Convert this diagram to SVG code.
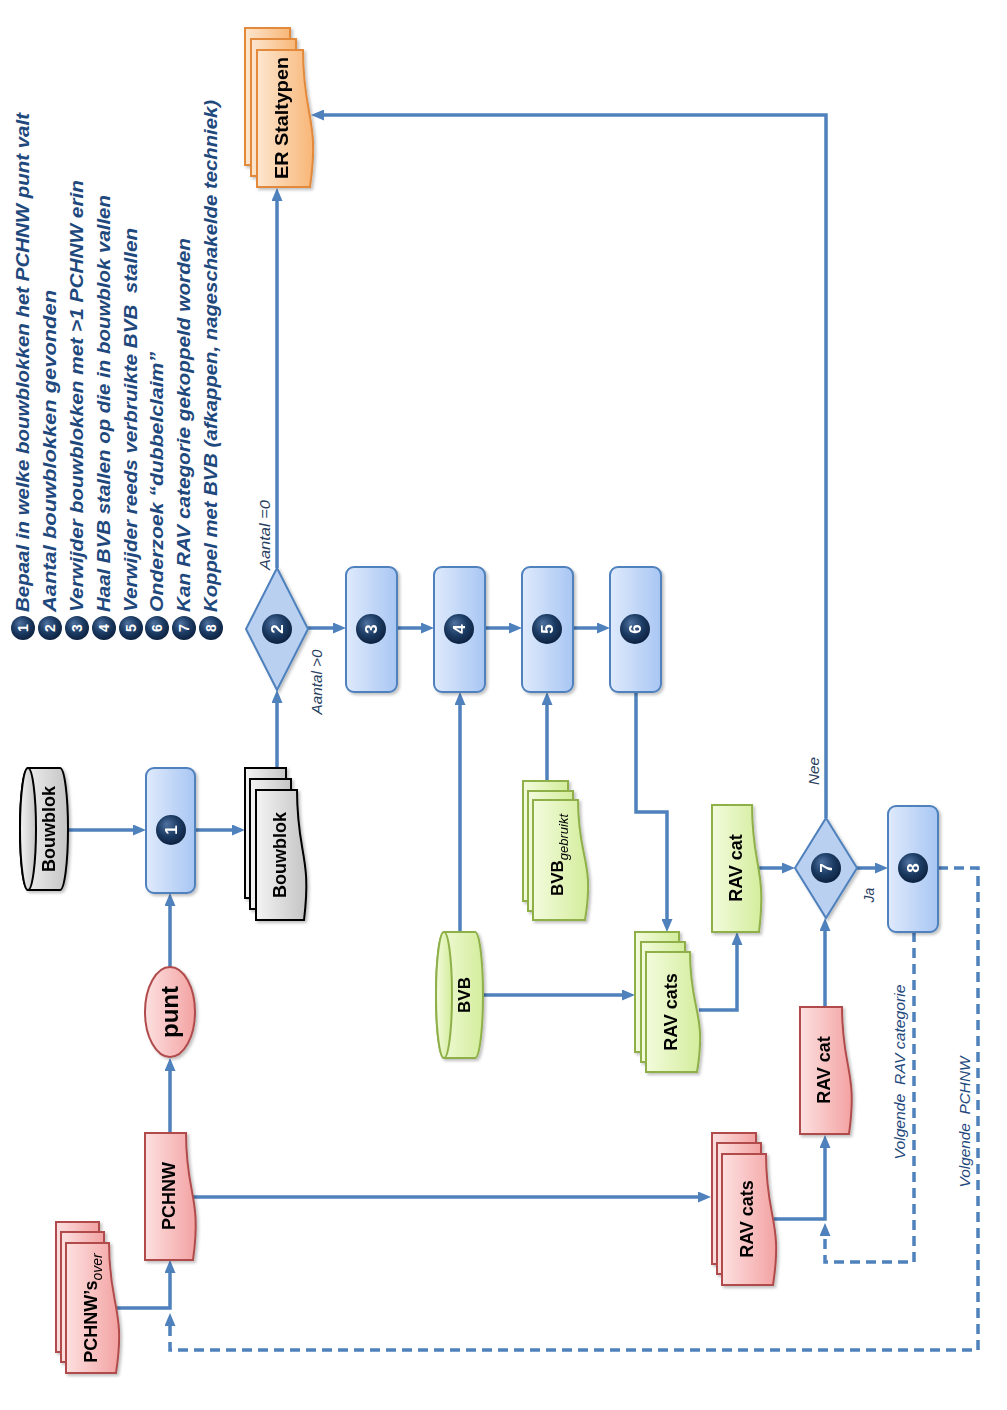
<svg xmlns="http://www.w3.org/2000/svg" width="1007" height="1410" viewBox="0 0 1007 1410">
<defs>
<style>
.lbl{font-family:"Liberation Sans",Arial,sans-serif;font-weight:bold;font-size:18px;fill:#000;text-anchor:middle}
.num{font-family:"Liberation Sans",Arial,sans-serif;font-weight:bold;font-size:17px;fill:#fff;text-anchor:middle}
.lnum{font-family:"Liberation Sans",Arial,sans-serif;font-weight:bold;font-size:14px;fill:#fff;text-anchor:middle}
.leg{font-family:"Liberation Sans",Arial,sans-serif;font-weight:bold;font-style:italic;font-size:18px;fill:#1f497d}
.cond{font-family:"Liberation Sans",Arial,sans-serif;font-style:italic;font-size:14px;fill:#2a3f5f;text-anchor:middle}
.loop{font-family:"Liberation Sans",Arial,sans-serif;font-style:italic;font-size:15px;fill:#1f497d;text-anchor:middle}
.box{fill:url(#gBlue);stroke:#4f81bd;stroke-width:2}
.dia{fill:#b9d0f0;stroke:#4f81bd;stroke-width:2}
.red{fill:url(#gRed);stroke:#b14c4c;stroke-width:2}
.grn{fill:url(#gGrn);stroke:#8fb04a;stroke-width:2}
.org{fill:url(#gOrg);stroke:#e3893b;stroke-width:2}
.gry{fill:url(#gGry);stroke:#000;stroke-width:2}
.ball{fill:url(#gBall)}
.con{fill:none;stroke:#4f81bd;stroke-width:3.5}
.dash{fill:none;stroke:#4f81bd;stroke-width:3.5;stroke-dasharray:10 6}
</style>
<linearGradient id="gBlue" x1="0" y1="0" x2="1" y2="0"><stop offset="0" stop-color="#dfeafc"/><stop offset="1" stop-color="#a8c6f3"/></linearGradient>
<linearGradient id="gRed" x1="0" y1="0" x2="1" y2="0"><stop offset="0" stop-color="#fde0e0"/><stop offset="1" stop-color="#f3a2a2"/></linearGradient>
<linearGradient id="gGrn" x1="0" y1="0" x2="1" y2="0"><stop offset="0" stop-color="#f3fbdc"/><stop offset="1" stop-color="#d3ed9c"/></linearGradient>
<linearGradient id="gOrg" x1="0" y1="0" x2="1" y2="0"><stop offset="0" stop-color="#fde6cf"/><stop offset="1" stop-color="#f8b677"/></linearGradient>
<linearGradient id="gGry" x1="0" y1="0" x2="1" y2="0"><stop offset="0" stop-color="#f4f4f4"/><stop offset="1" stop-color="#c4c4c4"/></linearGradient>
<radialGradient id="gBall" cx="0.45" cy="0.4" r="0.6" fx="0.35" fy="0.3"><stop offset="0" stop-color="#4f72a0"/><stop offset="0.6" stop-color="#1c3b63"/><stop offset="1" stop-color="#0d2240"/></radialGradient>
<filter id="sh" x="-20%" y="-20%" width="140%" height="140%"><feDropShadow dx="2" dy="2" stdDeviation="1.5" flood-color="#000" flood-opacity="0.25"/></filter>
<marker id="ah" markerUnits="userSpaceOnUse" markerWidth="13" markerHeight="11" refX="8" refY="5.5" orient="auto"><path d="M0,0 L13,5.5 L0,11 z" fill="#4f81bd"/></marker>
</defs>
<rect width="1007" height="1410" fill="#fff"/>

<g id="legend">
<circle class="ball" cx="23" cy="628" r="12"/><text class="lnum" transform="translate(23,628) rotate(-90)" dy="5">1</text>
<circle class="ball" cx="50" cy="628" r="12"/><text class="lnum" transform="translate(50,628) rotate(-90)" dy="5">2</text>
<circle class="ball" cx="77" cy="628" r="12"/><text class="lnum" transform="translate(77,628) rotate(-90)" dy="5">3</text>
<circle class="ball" cx="104" cy="628" r="12"/><text class="lnum" transform="translate(104,628) rotate(-90)" dy="5">4</text>
<circle class="ball" cx="131" cy="628" r="12"/><text class="lnum" transform="translate(131,628) rotate(-90)" dy="5">5</text>
<circle class="ball" cx="157" cy="628" r="12"/><text class="lnum" transform="translate(157,628) rotate(-90)" dy="5">6</text>
<circle class="ball" cx="184" cy="628" r="12"/><text class="lnum" transform="translate(184,628) rotate(-90)" dy="5">7</text>
<circle class="ball" cx="211" cy="628" r="12"/><text class="lnum" transform="translate(211,628) rotate(-90)" dy="5">8</text>
<text class="leg" transform="translate(29,612) rotate(-90)" textLength="499" lengthAdjust="spacingAndGlyphs">Bepaal in welke bouwblokken het PCHNW punt valt</text>
<text class="leg" transform="translate(56,612) rotate(-90)" textLength="322" lengthAdjust="spacingAndGlyphs">Aantal bouwblokken gevonden</text>
<text class="leg" transform="translate(83,612) rotate(-90)" textLength="432" lengthAdjust="spacingAndGlyphs">Verwijder bouwblokken met &gt;1 PCHNW erin</text>
<text class="leg" transform="translate(110,612) rotate(-90)" textLength="417" lengthAdjust="spacingAndGlyphs">Haal BVB stallen op die in bouwblok vallen</text>
<text class="leg" transform="translate(137,612) rotate(-90)" textLength="384" lengthAdjust="spacingAndGlyphs" xml:space="preserve">Verwijder reeds verbruikte BVB  stallen</text>
<text class="leg" transform="translate(163,612) rotate(-90)" textLength="260" lengthAdjust="spacingAndGlyphs">Onderzoek “dubbelclaim”</text>
<text class="leg" transform="translate(190,612) rotate(-90)" textLength="374" lengthAdjust="spacingAndGlyphs">Kan RAV categorie gekoppeld worden</text>
<text class="leg" transform="translate(217,612) rotate(-90)" textLength="512" lengthAdjust="spacingAndGlyphs">Koppel met BVB (afkappen, nageschakelde techniek)</text>
</g>

<g id="connectors">
<path class="con" marker-end="url(#ah)" d="M68,830 H141"/>
<path class="con" marker-end="url(#ah)" d="M195,830 H240"/>
<path class="con" marker-end="url(#ah)" d="M277,768 V695"/>
<path class="con" marker-end="url(#ah)" d="M277,568 V193"/>
<path class="con" marker-end="url(#ah)" d="M308,628 H341"/>
<path class="con" marker-end="url(#ah)" d="M397,628 H429"/>
<path class="con" marker-end="url(#ah)" d="M485,628 H517"/>
<path class="con" marker-end="url(#ah)" d="M573,628 H605"/>
<path class="con" marker-end="url(#ah)" d="M460,932 V697"/>
<path class="con" marker-end="url(#ah)" d="M547,781 V697"/>
<path class="con" marker-end="url(#ah)" d="M636,692 V812 H667 V927"/>
<path class="con" marker-end="url(#ah)" d="M483,995 H630"/>
<path class="con" marker-end="url(#ah)" d="M699,1010 H737 V937"/>
<path class="con" marker-end="url(#ah)" d="M759,868 H790"/>
<path class="con" marker-end="url(#ah)" d="M857,868 H883"/>
<path class="con" marker-end="url(#ah)" d="M826,818 V115 H316"/>
<path class="con" marker-end="url(#ah)" d="M825,1007 V923"/>
<path class="con" marker-end="url(#ah)" d="M774,1219 H825 V1140"/>
<path class="dash" marker-end="url(#ah)" d="M914,932 V1262 H825 V1228"/>
<path class="dash" marker-end="url(#ah)" d="M938,868 H978 V1350 H170 V1318"/>
<path class="con" marker-end="url(#ah)" d="M170,1133 V1063"/>
<path class="con" marker-end="url(#ah)" d="M170,967 V898"/>
<path class="con" marker-end="url(#ah)" d="M193,1197 H706"/>
<path class="con" marker-end="url(#ah)" d="M117,1308 H170 V1265"/>
<text class="cond" transform="translate(270,535) rotate(-90)" textLength="70" lengthAdjust="spacingAndGlyphs">Aantal =0</text>
<text class="cond" transform="translate(322,682) rotate(-90)" textLength="65" lengthAdjust="spacingAndGlyphs">Aantal &gt;0</text>
<text class="cond" transform="translate(819,771) rotate(-90)" textLength="28" lengthAdjust="spacingAndGlyphs">Nee</text>
<text class="cond" transform="translate(874,895) rotate(-90)">Ja</text>
<text class="loop" transform="translate(905,1072) rotate(-90)" xml:space="preserve" textLength="175" lengthAdjust="spacingAndGlyphs">Volgende  RAV categorie</text>
<text class="loop" transform="translate(970,1122) rotate(-90)" xml:space="preserve" textLength="131" lengthAdjust="spacingAndGlyphs">Volgende  PCHNW</text>
</g>

<g id="n_er_staltypen" filter="url(#sh)">
<rect class="org" x="245" y="28" width="45" height="137"/>
<rect class="org" x="251" y="39" width="45" height="137"/>
<path class="org" d="M257,50 H303 C303,118 320,118 310,187 H257 Z"/>
<text class="lbl" transform="translate(282,118) rotate(-90)" dy="6" textLength="122" lengthAdjust="spacingAndGlyphs">ER Staltypen</text>
</g>

<g id="n_bouwblok_db" filter="url(#sh)">
<path class="gry" d="M28,768 H60 A8,61 0 0 1 60,890 H28 A8,61 0 0 1 28,768 Z"/>
<ellipse class="gry" cx="28" cy="829" rx="8" ry="61"/>
<text class="lbl" transform="translate(49,829) rotate(-90)" dy="6">Bouwblok</text>
</g>

<g id="n_1" filter="url(#sh)">
<rect class="box" x="146" y="768" width="49" height="125" rx="8"/>
<circle class="ball" cx="171" cy="830" r="15"/>
<text class="num" transform="translate(171,830) rotate(-90)" dy="6">1</text>
</g>

<g id="n_bouwblok_docs" filter="url(#sh)">
<rect class="gry" x="245" y="768" width="41" height="130"/>
<rect class="gry" x="250" y="779" width="41" height="130"/>
<path class="gry" d="M256,790 H297 C297,855 312,855 304,920 H256 Z"/>
<text class="lbl" transform="translate(280,855) rotate(-90)" dy="6">Bouwblok</text>
</g>

<g id="n_2" filter="url(#sh)">
<polygon class="dia" points="277,568 308,629 277,690 246,629"/>
<circle class="ball" cx="277" cy="629" r="15"/>
<text class="num" transform="translate(277,629) rotate(-90)" dy="6">2</text>
</g>

<g id="n_3" filter="url(#sh)">
<rect class="box" x="346" y="567" width="51" height="125" rx="8"/>
<circle class="ball" cx="371" cy="629" r="15"/>
<text class="num" transform="translate(371,629) rotate(-90)" dy="6">3</text>
</g>
<g id="n_4" filter="url(#sh)">
<rect class="box" x="434" y="567" width="51" height="125" rx="8"/>
<circle class="ball" cx="459" cy="629" r="15"/>
<text class="num" transform="translate(459,629) rotate(-90)" dy="6">4</text>
</g>
<g id="n_5" filter="url(#sh)">
<rect class="box" x="522" y="567" width="51" height="125" rx="8"/>
<circle class="ball" cx="547" cy="629" r="15"/>
<text class="num" transform="translate(547,629) rotate(-90)" dy="6">5</text>
</g>
<g id="n_6" filter="url(#sh)">
<rect class="box" x="610" y="567" width="51" height="125" rx="8"/>
<circle class="ball" cx="635" cy="629" r="15"/>
<text class="num" transform="translate(635,629) rotate(-90)" dy="6">6</text>
</g>

<g id="n_bvb" filter="url(#sh)">
<path class="grn" d="M444,932 H475 A8,63 0 0 1 475,1058 H444 A8,63 0 0 1 444,932 Z"/>
<ellipse class="grn" cx="444" cy="995" rx="8" ry="63"/>
<text class="lbl" style="font-size:17px" transform="translate(464,995) rotate(-90)" dy="6">BVB</text>
</g>

<g id="n_bvb_gebruikt" filter="url(#sh)">
<rect class="grn" x="523" y="781" width="45" height="120"/>
<rect class="grn" x="528" y="791" width="45" height="120"/>
<path class="grn" d="M533,800 H578 C578,860 595,860 585,920 H533 Z"/>
<text class="lbl" style="font-size:17px" transform="translate(557,855) rotate(-90)" dy="6">BVB<tspan style="font-weight:normal;font-style:italic;font-size:13px" dy="5">gebruikt</tspan></text>
</g>

<g id="n_rav_cats_green" filter="url(#sh)">
<rect class="grn" x="635" y="932" width="44" height="120"/>
<rect class="grn" x="641" y="942" width="44" height="120"/>
<path class="grn" d="M646,952 H690 C690,1012 707,1012 697,1072 H646 Z"/>
<text class="lbl" transform="translate(671,1012) rotate(-90)" dy="6">RAV cats</text>
</g>

<g id="n_rav_cat_green" filter="url(#sh)">
<path class="grn" d="M712,805 H752 C752,868 767,868 759,932 H712 Z"/>
<text class="lbl" transform="translate(736,868) rotate(-90)" dy="6">RAV cat</text>
</g>

<g id="n_7" filter="url(#sh)">
<polygon class="dia" points="826,818 857,868 826,918 795,868"/>
<circle class="ball" cx="826" cy="868" r="15"/>
<text class="num" transform="translate(826,868) rotate(-90)" dy="6">7</text>
</g>

<g id="n_8" filter="url(#sh)">
<rect class="box" x="888" y="806" width="50" height="126" rx="8"/>
<circle class="ball" cx="913" cy="868" r="15"/>
<text class="num" transform="translate(913,868) rotate(-90)" dy="6">8</text>
</g>

<g id="n_rav_cat_red" filter="url(#sh)">
<path class="red" d="M800,1007 H842 C842,1070 858,1070 849,1134 H800 Z"/>
<text class="lbl" transform="translate(824,1070) rotate(-90)" dy="6">RAV cat</text>
</g>

<g id="n_rav_cats_red" filter="url(#sh)">
<rect class="red" x="712" y="1133" width="44" height="131"/>
<rect class="red" x="717" y="1143" width="44" height="131"/>
<path class="red" d="M722,1154 H766 C766,1220 783,1220 773,1285 H722 Z"/>
<text class="lbl" transform="translate(747,1219) rotate(-90)" dy="6">RAV cats</text>
</g>

<g id="n_punt" filter="url(#sh)">
<ellipse class="red" cx="170" cy="1012" rx="25" ry="45"/>
<text class="lbl" style="font-size:24px" transform="translate(170,1012) rotate(-90)" dy="8">punt</text>
</g>

<g id="n_pchnw" filter="url(#sh)">
<path class="red" d="M145,1133 H186 C186,1196 202,1196 193,1260 H145 Z"/>
<text class="lbl" transform="translate(169,1196) rotate(-90)" dy="6">PCHNW</text>
</g>

<g id="n_pchnws_over" filter="url(#sh)">
<rect class="red" x="56" y="1222" width="43" height="130"/>
<rect class="red" x="61" y="1232" width="43" height="130"/>
<path class="red" d="M66,1243 H109 C109,1308 126,1308 116,1373 H66 Z"/>
<text class="lbl" transform="translate(91,1308) rotate(-90)" dy="6">PCHNW’s<tspan style="font-weight:normal;font-style:italic;font-size:14px" dy="5">over</tspan></text>
</g>
</svg>
